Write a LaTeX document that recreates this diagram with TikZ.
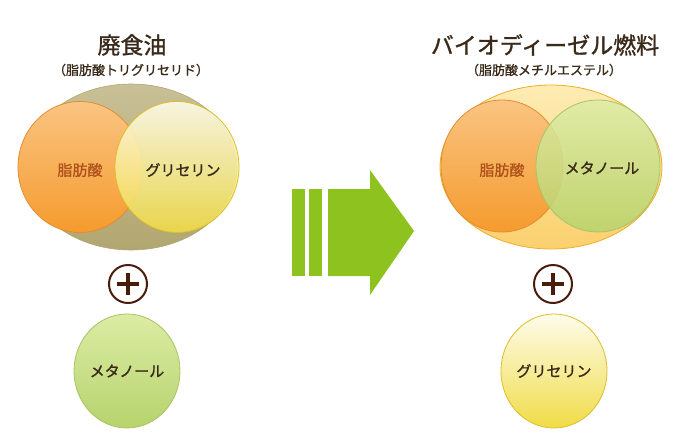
\documentclass[tikz,border=0pt]{standalone}
\usepackage{fontspec}
\setmainfont{Noto Sans CJK JP}
\newfontfamily\medfont[FakeBold=1.2]{Noto Sans CJK JP}
\usetikzlibrary{shapes.geometric}
\definecolor{txt}{HTML}{3A2A1A}
\definecolor{fattxt}{HTML}{B0521C}
\definecolor{arrowgreen}{HTML}{8DC21F}
\definecolor{plusbrown}{HTML}{4A1C0C}
\tikzset{
  blob/.style={ellipse, inner sep=0pt, line width=0.8pt, font=\medfont\fontsize{15}{17}\selectfont, text=txt},
  lbl/.style={font=\medfont\fontsize{15}{17}\selectfont, text=txt},
  orangeblob/.style={blob, draw={rgb,255:red,228;green,140;blue,50}, top color={rgb,255:red,250;green,196;blue,130}, bottom color={rgb,255:red,245;green,155;blue,45}, text=fattxt},
  yellowblob/.style={blob, draw={rgb,255:red,220;green,190;blue,40}, top color={rgb,255:red,254;green,252;blue,236}, bottom color={rgb,255:red,240;green,220;blue,70}},
  greenblob/.style={blob, draw={rgb,255:red,170;green,195;blue,100}, top color={rgb,255:red,220;green,236;blue,165}, bottom color={rgb,255:red,182;green,211;blue,108}},
  title/.style={text=txt, font=\medfont\fontsize{23}{26}\selectfont},
  subtitle/.style={text=txt, font=\medfont\fontsize{13}{15}\selectfont},
  pluscircle/.style={circle, draw=plusbrown, line width=2pt, minimum size=38pt, inner sep=0pt, fill=white},
}
\begin{document}
\begin{tikzpicture}[x=1pt,y=-1pt]
\useasboundingbox (0,0) rectangle (680,440);
% left titles
\node[title] (t1) at (132,45) {廃食油};
\node[subtitle] (s1) at (131,70) {（脂肪酸トリグリセリド）};
% left big ellipse
\node[ellipse, inner sep=0pt, minimum width=212pt, minimum height=166pt, draw={rgb,255:red,175;green,165;blue,115}, line width=0.6pt, top color={rgb,255:red,200;green,192;blue,150}, bottom color={rgb,255:red,178;green,166;blue,112}] (oil) at (131,167) {};
\node[orangeblob, minimum width=124pt, minimum height=131pt] (fa1) at (80,167) {};
\node[yellowblob, minimum width=124pt, minimum height=131pt, fill opacity=0.88] (gly1) at (177,167) {};
\node[lbl, text=fattxt] (fa1t) at (80,170) {脂肪酸};
\node[lbl] (gly1t) at (183,170) {グリセリン};
% left plus
\node[pluscircle] (p1) at (128,284) {};
\draw[plusbrown, line width=4pt] ([xshift=-11pt]p1.center) -- ([xshift=11pt]p1.center);
\draw[plusbrown, line width=4pt] ([yshift=-11pt]p1.center) -- ([yshift=11pt]p1.center);
% left methanol
\node[greenblob, minimum width=106pt, minimum height=114pt] (me1) at (127,371) {メタノール};
% arrow
\fill[arrowgreen] (292,189) rectangle (305,276);
\fill[arrowgreen] (309,189) rectangle (322,276);
\fill[arrowgreen] (328,189) -- (370,189) -- (370,170) -- (414,231) -- (370,295) -- (370,276) -- (328,276) -- cycle;
% right titles
\node[title] (t2) at (545,45) {バイオディーゼル燃料};
\node[subtitle] (s2) at (544,70) {（脂肪酸メチルエステル）};
% right big ellipse
\node[ellipse, inner sep=0pt, minimum width=222pt, minimum height=164pt, draw={rgb,255:red,235;green,175;blue,40}, line width=0.8pt, top color={rgb,255:red,254;green,236;blue,180}, bottom color={rgb,255:red,251;green,208;blue,110}] (bdf) at (551,167) {};
\node[orangeblob, minimum width=122pt, minimum height=132pt] (fa2) at (502,166) {};
\node[greenblob, minimum width=124pt, minimum height=132pt, fill opacity=0.85] (me2) at (598,166) {};
\node[lbl, text=fattxt] (fa2t) at (502,170) {脂肪酸};
\node[lbl] (me2t) at (602,168) {メタノール};
% right plus
\node[pluscircle] (p2) at (553,284) {};
\draw[plusbrown, line width=4pt] ([xshift=-11pt]p2.center) -- ([xshift=11pt]p2.center);
\draw[plusbrown, line width=4pt] ([yshift=-11pt]p2.center) -- ([yshift=11pt]p2.center);
% right glycerin
\node[yellowblob, minimum width=106pt, minimum height=114pt] (gly2) at (554,371) {グリセリン};
\end{tikzpicture}
\end{document}
